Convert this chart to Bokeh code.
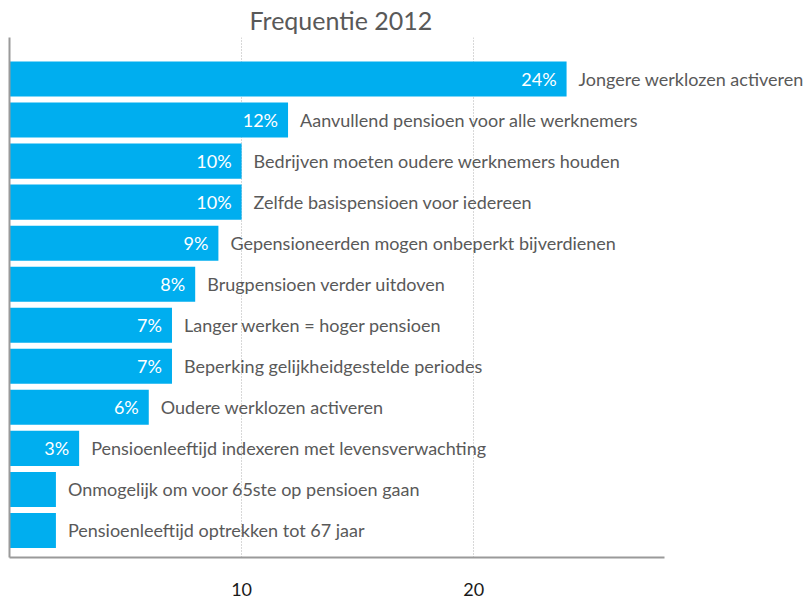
from bokeh.plotting import figure
from bokeh.models import ColumnDataSource, FixedTicker, Range1d
from bokeh.embed import file_html
from bokeh.resources import INLINE
from bokeh.core.properties import value

categories = [
    "Jongere werklozen activeren",
    "Aanvullend pensioen voor alle werknemers",
    "Bedrijven moeten oudere werknemers houden",
    "Zelfde basispensioen voor iedereen",
    "Gepensioneerden mogen onbeperkt bijverdienen",
    "Brugpensioen verder uitdoven",
    "Langer werken = hoger pensioen",
    "Beperking gelijkheidgestelde periodes",
    "Oudere werklozen activeren",
    "Pensioenleeftijd indexeren met levensverwachting",
    "Onmogelijk om voor 65ste op pensioen gaan",
    "Pensioenleeftijd optrekken tot 67 jaar",
]
values = [24, 12, 10, 10, 9, 8, 7, 7, 6, 3, 2, 2]
pct_labels = ["24%", "12%", "10%", "10%", "9%", "8%", "7%", "7%", "6%", "3%", "", ""]
x_ticks = [10, 20]

n = len(categories)
ypos = [n - 1 - i for i in range(n)]

src = ColumnDataSource(dict(y=ypos, v=values, cat=categories, pct=pct_labels))

FONT = "Lato"
p = figure(width=804, height=598, output_backend="svg", toolbar_location=None,
           x_range=Range1d(0, 34.25), y_range=Range1d(-0.659, 12.012),
           min_border_left=9, min_border_right=0, min_border_top=29, min_border_bottom=0,
           title="Frequentie 2012")
p.outline_line_color = None
p.title.align = "left"
p.title.offset = 240
p.title.standoff = 5
p.title.text_font = FONT
p.title.text_font_size = "25px"
p.title.text_font_style = "normal"
p.title.text_color = "#595959"

p.hbar(y="y", right="v", left=0, height=0.854, source=src,
       fill_color="#00AEEF", line_color=None)

p.text(x="v", y="y", text="pct", source=src, x_offset=-10,
       text_align="right", text_baseline="middle", text_color="white",
       text_font=value(FONT), text_font_size="18px")
p.text(x="v", y="y", text="cat", source=src, x_offset=12,
       text_align="left", text_baseline="middle", text_color="#595959",
       text_font=value(FONT), text_font_size="18px")

xa = p.xaxis[0]
xa.ticker = FixedTicker(ticks=x_ticks)
xa.bounds = (0, 28.2)
xa.axis_line_color = "#9a9a9a"
xa.axis_line_width = 2
xa.major_tick_line_color = None
xa.minor_tick_line_color = None
xa.major_tick_out = 0
xa.minor_tick_out = 0
xa.major_label_standoff = 25
xa.major_label_text_font = FONT
xa.major_label_text_font_size = "18px"
xa.major_label_text_color = "#1a1a1a"

ya = p.yaxis[0]
ya.ticker = FixedTicker(ticks=[])
ya.axis_line_color = "#9a9a9a"
ya.axis_line_width = 2
ya.major_tick_line_color = None
ya.minor_tick_line_color = None
ya.major_tick_out = 0
ya.minor_tick_out = 0
ya.major_label_standoff = 0

p.ygrid.grid_line_color = None
p.xgrid.grid_line_color = "#b0b0b0"
p.xgrid.grid_line_dash = "1 2"
p.xgrid.grid_line_width = 1

open("out.html", "w").write(file_html(p, INLINE))
